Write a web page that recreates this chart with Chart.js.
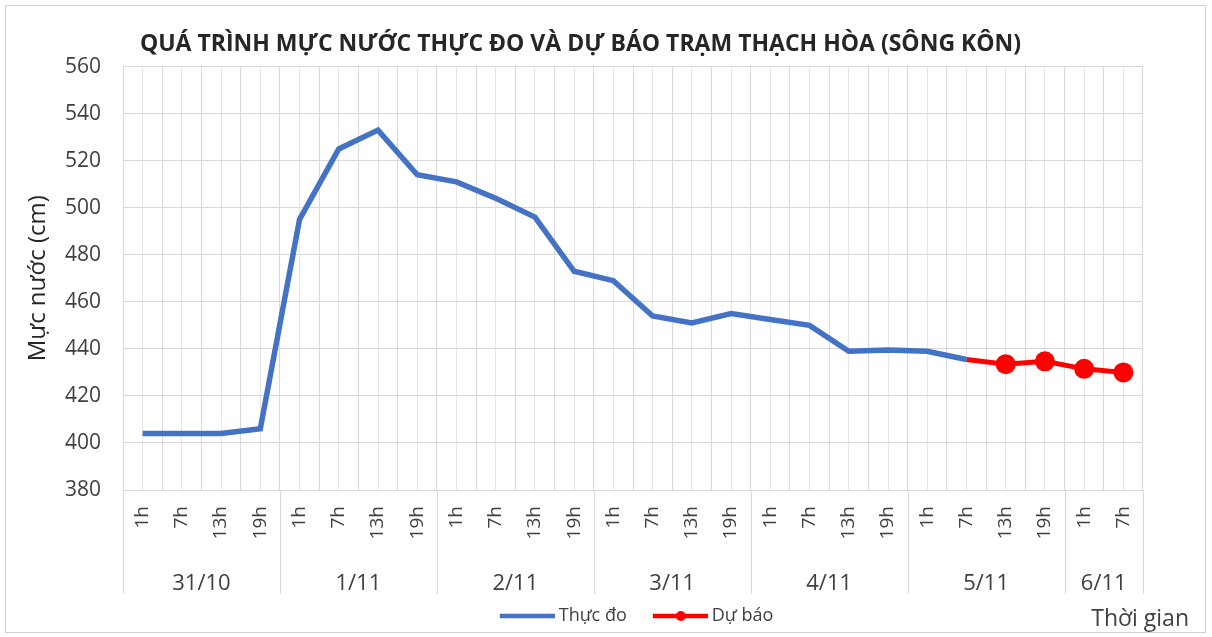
<!DOCTYPE html>
<html>
<head>
<meta charset="utf-8">
<script src="https://cdn.jsdelivr.net/npm/chart.js@4"></script>
<style>
  html, body { margin: 0; padding: 0; background: #fff; }
  #wrap { position: relative; width: 1212px; height: 637px; }
</style>
</head>
<body>
<div id="wrap"><canvas id="myChart" width="1212" height="637"></canvas></div>
<script>
// du lieu doc tu hinh
const hours = ['1h', '7h', '13h', '19h', '1h', '7h', '13h', '19h', '1h', '7h', '13h', '19h',
  '1h', '7h', '13h', '19h', '1h', '7h', '13h', '19h', '1h', '7h', '13h', '19h', '1h', '7h'];
const days = ['31/10', '1/11', '2/11', '3/11', '4/11', '5/11', '6/11'];
const dayCounts = [4, 4, 4, 4, 4, 4, 2];
const thucDo = [404, 404, 404, 406, 495, 525, 533, 514, 511, 504, 496, 473,
  469, 454, 451, 455, 452.5, 450, 439, 439.5, 439, 435.5];
const duBao = [null, null, null, null, null, null, null, null, null, null, null, null,
  null, null, null, null, null, null, null, null, null, 435.5, 433.5, 434.7, 431.5, 430];
const yTicks = [380, 400, 420, 440, 460, 480, 500, 520, 540, 560];

const BLUE = '#4472C4';
const RED = '#FF0000';
const TEXT = '#404040';
const GRID = '#d9d9d9';
const FONT = "'Open Sans', 'Liberation Sans', sans-serif";

// tam cua moi ngay va ranh gioi giua cac ngay
const dayCenters = [];
const dayEdges = [-0.5];
let pos = 0;
dayCounts.forEach((n) => {
  dayCenters.push(pos + n / 2 - 0.5);
  pos += n;
  dayEdges.push(pos - 0.5);
});

// icon cho legend: khoang trong ben trai, duong ke ben phai
function legendIcon(color, dot) {
  const c = document.createElement('canvas');
  c.width = 80;
  c.height = 12;
  const g = c.getContext('2d');
  g.strokeStyle = color;
  g.lineWidth = 4.5;
  g.beginPath();
  g.moveTo(25, 6);
  g.lineTo(80, 6);
  g.stroke();
  if (dot) {
    g.fillStyle = color;
    g.beginPath();
    g.arc(53, 6, 5, 0, Math.PI * 2);
    g.fill();
  }
  return c;
}
const icons = [legendIcon(BLUE, false), legendIcon(RED, true)];

const frameAndDays = {
  id: 'frameAndDays',
  afterLayout(chart) {
    // day legend sang phai cho giong hinh goc
    chart.legend.left += 46;
    chart.legend.right += 46;
  },
  beforeDraw(chart) {
    const ctx = chart.ctx;
    ctx.save();
    ctx.fillStyle = '#fff';
    ctx.fillRect(0, 0, chart.width, chart.height);
    ctx.strokeStyle = '#d0d0d0';
    ctx.lineWidth = 1;
    ctx.strokeRect(5.5, 5.5, chart.width - 12, chart.height - 10);
    ctx.restore();
  },
  afterDraw(chart) {
    const ctx = chart.ctx;
    const xd = chart.scales.xd;
    const top = chart.chartArea.bottom;
    ctx.save();
    ctx.strokeStyle = GRID;
    ctx.lineWidth = 1;
    dayEdges.forEach((e) => {
      const x = Math.round(xd.getPixelForValue(e)) + 0.5;
      ctx.beginPath();
      ctx.moveTo(x, top);
      ctx.lineTo(x, 594);
      ctx.stroke();
    });
    ctx.fillStyle = TEXT;
    ctx.font = '23px ' + FONT;
    ctx.textAlign = 'right';
    ctx.textBaseline = 'middle';
    ctx.fillText('Thời gian', 1189, 619);
    ctx.restore();
  },
};

const ctx = document.getElementById('myChart');

new Chart(ctx, {
  type: 'line',
  data: {
    labels: hours,
    datasets: [
      {
        label: 'Thực đo',
        data: thucDo,
        borderColor: BLUE,
        backgroundColor: BLUE,
        borderWidth: 5.5,
        pointRadius: 0,
        tension: 0,
      },
      {
        label: 'Dự báo',
        data: duBao,
        borderColor: RED,
        backgroundColor: RED,
        borderWidth: 5,
        pointRadius: (c) => (c.dataIndex === 21 ? 0 : 10),
        pointBorderWidth: 0,
        tension: 0,
      },
    ],
  },
  options: {
    responsive: false,
    animation: false,
    layout: { padding: { left: 18, right: 69, top: 0, bottom: 2 } },
    plugins: {
      title: {
        display: true,
        text: 'QUÁ TRÌNH MỰC NƯỚC THỰC ĐO VÀ DỰ BÁO TRẠM THẠCH HÒA (SÔNG KÔN)',
        color: '#262626',
        font: { family: FONT, size: 23, weight: 'bold' },
        padding: { top: 31, bottom: 8 },
      },
      legend: {
        position: 'bottom',
        labels: {
          usePointStyle: true,
          pointStyleWidth: 70,
          color: TEXT,
          font: { family: FONT, size: 18 },
          padding: 6,
          generateLabels(chart) {
            const items = Chart.defaults.plugins.legend.labels.generateLabels(chart);
            items.forEach((it, i) => { it.pointStyle = icons[i]; });
            return items;
          },
        },
      },
      tooltip: { enabled: false },
    },
    scales: {
      x: {
        type: 'category',
        position: 'bottom',
        weight: 0,
        offset: true,
        grid: { offset: true, color: GRID, drawTicks: false },
        border: { color: GRID },
        ticks: {
          autoSkip: false,
          maxRotation: 90,
          minRotation: 90,
          padding: 16,
          color: TEXT,
          font: { family: FONT, size: 19 },
        },
        afterFit(scale) { scale.height = 65; },
      },
      xc: {
        type: 'category',
        position: 'bottom',
        weight: 5,
        offset: true,
        labels: hours,
        grid: { offset: false, color: '#e6e6e6', drawTicks: false },
        border: { display: false },
        ticks: { display: false },
        afterFit(scale) { scale.height = 0; },
      },
      xd: {
        type: 'linear',
        position: 'bottom',
        weight: 1,
        min: -0.5,
        max: 25.5,
        grid: { display: false },
        border: { display: false },
        afterBuildTicks(scale) {
          scale.ticks = dayCenters.map((v) => ({ value: v }));
        },
        ticks: {
          autoSkip: false,
          maxRotation: 0,
          padding: 8,
          color: TEXT,
          font: { family: FONT, size: 22 },
          callback: (v) => days[dayCenters.indexOf(v)],
        },
        afterFit(scale) { scale.height = 46; },
      },
      y: {
        min: 380,
        max: 560,
        afterBuildTicks(scale) {
          scale.ticks = yTicks.map((v) => ({ value: v }));
        },
        grid: { color: GRID, drawTicks: false },
        border: { display: false },
        ticks: {
          padding: 22,
          color: TEXT,
          font: { family: FONT, size: 21 },
        },
        title: {
          display: true,
          text: 'Mực nước (cm)',
          color: '#262626',
          font: { family: FONT, size: 24 },
          padding: { top: 6, bottom: 0 },
        },
        afterFit(scale) { scale.width = 105; },
      },
    },
  },
  plugins: [frameAndDays],
});
</script>
</body>
</html>
